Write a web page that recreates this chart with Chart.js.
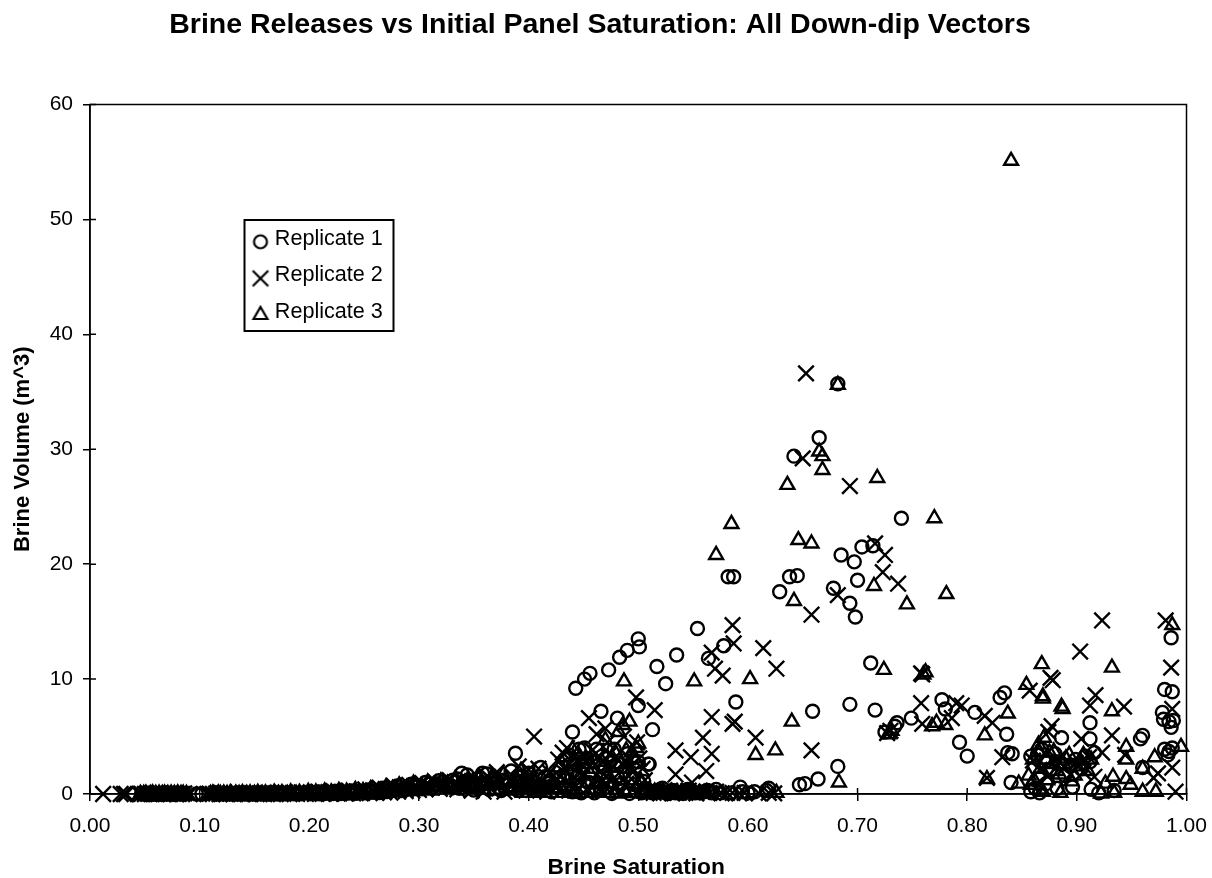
<!DOCTYPE html>
<html><head><meta charset="utf-8">
<style>html,body{margin:0;padding:0;background:#fff}</style>
<script src="https://cdn.jsdelivr.net/npm/chart.js@4/dist/chart.umd.js"></script>
</head><body><canvas id="c" width="1212" height="878" style="display:block"></canvas>
<script>
const chartTitle = 'Brine Releases vs Initial Panel Saturation: All Down-dip Vectors';
const xAxisTitle = 'Brine Saturation';
const yAxisTitle = 'Brine Volume (m^3)';
const seriesNames = ['Replicate 1', 'Replicate 2', 'Replicate 3'];

const rep1Points = [
[.682,35.7],[.665,31.0],[.642,29.4],[.740,24.0],[.685,20.8],[.697,20.2],[.704,21.5],[.714,21.6],[.700,18.6],[.678,17.9],[.693,16.6],[.698,15.4],
[.582,18.9],[.587,18.9],[.638,18.9],[.645,19.0],[.629,17.6],[.554,14.4],[.500,13.5],[.501,12.8],[.490,12.5],[.483,11.9],[.535,12.1],[.578,12.9],[.564,11.8],[.712,11.4],
[.443,9.2],[.451,10.0],[.456,10.5],[.473,10.8],[.517,11.1],[.525,9.6],[.589,8.0],[.659,7.2],[.500,7.7],[.466,7.2],[.481,6.6],[.440,5.4],[.513,5.6],[.451,4.0],[.478,3.9],[.467,3.3],[.509,2.6],[.481,1.5],
[.693,7.8],[.716,7.3],[.749,6.6],[.736,6.2],[.734,5.9],[.725,5.4],[.777,8.2],[.780,7.4],[.807,7.1],[.793,4.5],[.800,3.3],[.836,5.2],[.830,8.4],[.834,8.8],[.837,3.6],[.841,3.5],[.840,1.0],
[.682,2.4],[.664,1.3],[.647,.8],[.652,.9],[.619,.5],[.617,.3],[.593,.6],[.600,.1],[.522,.5],[.571,.4],
[.986,13.6],[.980,9.1],[.987,8.9],[.912,6.2],[.978,7.1],[.979,6.5],[.984,6.3],[.988,6.4],[.986,5.8],[.886,4.9],[.960,5.1],[.958,4.8],[.912,4.8],[.980,3.9],[.984,3.7],[.987,4.0],[.983,3.4],[.960,2.3],
[.913,.4],[.882,.5],[.896,.6],[.858,.2],[.862,.5],[.866,.1],[.872,.9],[.864,3.4],[.858,3.3],[.871,2.8],[.876,2.1],[.884,2.6],[.889,1.6],[.894,2.4],[.899,3.0],[.904,2.2],[.908,3.3],[.912,2.8],[.916,3.6],[.880,3.5],[.868,3.9],[.934,.3],[.920,.1],
[.047,0],[.052,0],[.058,0],[.064,0],[.069,0],[.075,0],[.082,0],[.086,0],[.097,0],[.102,0],[.115,0],[.121,0],[.127,0],[.134,0],[.141,0],[.148,0],[.156,0],[.163,0],[.171,0],[.178,.01],[.186,.01],[.193,.02],[.201,.02],[.209,.02],[.214,.03],[.222,.05],[.229,.04],[.236,.08],[.243,.06],[.251,.1],[.258,.15],[.264,.12],[.271,.22],[.277,.35],[.284,.3],[.291,.55],[.296,.7],[.303,.45],[.309,.85],[.315,.9],[.322,1.05],[.328,.7],[.335,1.3],[.339,1.8],[.344,1.65],[.348,1.0],[.353,1.3],[.358,1.8],[.362,1.75],[.367,.9],[.372,.6],[.377,1.2],[.384,2.0],[.388,3.55],[.392,.7],[.398,.3],[.403,1.2],[.408,.4],[.411,2.3],[.418,.9],[.421,.2],[.428,1.4],[.433,.5],[.437,3.4],[.441,2.0],[.446,3.9],[.440,.2],[.448,.1],[.455,1.0],[.460,.1],[.465,.6],[.470,2.2],[.476,.05],[.486,.3],[.492,.05],[.497,.8],[.503,.1],[.510,2.6],[.516,.2],[.528,.05],[.534,.1],[.541,.05],[.548,.2],[.556,.1],[.563,.3],[.606,.2]
];
const rep1Low = [
[.049,.02],[.055,.03],[.061,.02],[.067,.04],[.072,.02],[.078,.03],[.084,.05],[.117,.03],[.123,.05],[.130,.02],[.137,.06],[.144,.04],[.151,.07],[.159,.05],[.166,.09],[.174,.06],[.181,.1],[.189,.08],[.196,.14],[.204,.1],[.212,.18],[.218,.12],[.225,.22],[.232,.15],[.239,.27],[.247,.2],[.254,.35],[.261,.3],[.267,.5],[.274,.38],[.280,.7],[.287,.55],[.293,.85],[.299,.65],[.306,1.0],[.312,.6],[.318,1.15],[.325,.9],[.331,1.2],[.337,.5],[.342,1.1],[.350,.35],[.356,.8],[.364,.4],[.370,1.3],[.375,.3],[.382,.8],[.390,1.5],[.395,.9],[.400,1.8],[.405,.7],[.415,1.5],[.424,1.9],[.430,.9],[.435,1.8],[.438,2.6],[.443,1.4],[.447,.6],[.450,2.4],[.453,3.1],[.457,1.8],[.459,2.8],[.462,3.9],[.468,1.5],[.472,3.1],[.474,1.1],[.479,2.5],[.483,.8],[.488,2.0],[.490,3.5],[.495,1.4],[.500,2.8],[.505,1.1],[.508,.4],[.513,.1],[.519,.3],[.525,.1],[.531,.3],[.538,.1],[.545,.4],[.552,.1],[.560,.2],[.567,.1],[.575,.1],[.585,.1],[.595,.2]
];

const rep2Points = [
[.653,36.6],[.693,26.8],[.650,29.2],[.716,21.8],[.725,20.8],[.723,19.3],[.737,18.3],[.682,17.3],[.658,15.6],[.586,14.7],[.587,13.1],[.614,12.7],[.567,12.3],[.626,10.9],[.577,10.3],[.570,10.9],
[.498,8.4],[.515,7.3],[.455,6.6],[.470,5.7],[.567,6.7],[.586,6.1],[.588,6.3],[.607,4.9],[.559,4.9],[.658,3.8],[.504,2.2],[.534,3.8],[.548,3.2],[.567,3.5],[.562,2.0],[.534,1.7],[.549,1.0],[.405,5.0],
[.758,10.5],[.759,10.4],[.758,7.9],[.759,6.1],[.786,6.6],[.790,7.9],[.795,7.7],[.816,6.8],[.823,6.2],[.832,3.2],[.818,1.4],[.727,5.3],[.730,5.5],
[.923,15.1],[.981,15.1],[.903,12.4],[.986,11.0],[.857,9.0],[.878,9.9],[.876,10.1],[.917,8.6],[.912,7.7],[.943,7.6],[.987,7.4],[.877,5.9],[.874,5.4],[.932,5.1],[.904,4.8],[.923,3.6],[.987,2.3],[.974,1.8],[.990,.2],[.860,2.9],[.866,2.1],[.874,1.6],[.882,3.0],[.889,2.3],[.894,1.7],[.899,2.7],[.906,1.9],[.911,3.2],[.916,1.5],[.970,1.4],[.944,3.4],
[.012,0],[.028,0],[.031,0],[.033,0],[.045,0],[.050,0],[.056,0],[.061,0],[.067,0],[.073,0],[.079,0],[.084,0],[.091,0],[.107,0],[.112,0],[.118,0],[.124,0],[.131,0],[.138,0],[.145,0],[.152,0],[.159,0],[.167,0],[.174,0],[.182,0],[.189,.01],[.197,.01],[.205,.01],[.212,.02],[.219,.02],[.226,.03],[.233,.04],[.240,.05],[.247,.06],[.255,.08],[.261,.1],[.268,.14],[.274,.12],[.281,.2],[.288,.25],[.294,.3],[.300,.35],[.306,.4],[.312,.55],[.319,.45],[.325,.65],[.331,.8],[.338,.6],[.345,.9],[.351,.75],[.356,1.0],[.361,.5],[.366,1.2],[.371,1.9],[.375,1.0],[.381,.4],[.386,1.5],[.391,2.4],[.396,1.2],[.400,2.1],[.406,.5],[.412,1.1],[.417,.2],[.423,1.6],[.427,3.0],[.431,3.6],[.435,4.0],[.439,2.4],[.444,1.2],[.449,2.6],[.453,.4],[.458,3.8],[.462,5.2],[.466,2.0],[.470,.6],[.474,3.5],[.478,1.4],[.483,.3],[.487,5.0],[.491,3.2],[.495,1.9],[.499,4.5],[.503,.4],[.508,.2],[.514,.1],[.520,.05],[.526,.2],[.531,.05],[.537,.3],[.543,.1],[.553,.05],[.558,.2],[.565,.1],[.576,.05],[.586,.1],[.592,.05],[.597,.1],[.610,.05],[.619,.1],[.624,.05]
];
const rep2Low = [
[.047,.02],[.053,.04],[.059,.02],[.064,.05],[.070,.03],[.076,.04],[.081,.02],[.086,.05],[.109,.03],[.115,.04],[.121,.06],[.128,.03],[.135,.07],[.142,.05],[.149,.08],[.156,.06],[.163,.1],[.170,.07],[.178,.12],[.185,.09],[.193,.15],[.201,.12],[.208,.2],[.215,.14],[.222,.25],[.229,.18],[.236,.3],[.243,.22],[.251,.4],[.258,.32],[.264,.55],[.271,.42],[.277,.7],[.284,.5],[.291,.8],[.297,.6],[.303,.95],[.309,.7],[.315,1.05],[.322,.8],[.328,1.2],[.335,.4],[.341,1.1],[.348,.3],[.353,.9],[.359,.2],[.363,1.5],[.369,.7],[.378,.2],[.383,1.1],[.388,.5],[.393,.8],[.398,.3],[.403,1.5],[.409,2.2],[.414,.7],[.419,1.9],[.425,.6],[.429,1.5],[.433,2.2],[.437,.3],[.441,3.2],[.446,.5],[.451,1.8],[.455,3.0],[.460,.8],[.464,3.3],[.468,1.2],[.472,4.5],[.476,2.4],[.480,.7],[.485,2.6],[.489,.9],[.493,2.4],[.497,1.0],[.501,3.1],[.506,1.2],[.511,.3],[.517,.2],[.523,.1],[.529,.3],[.534,.15],[.540,.2],[.546,.3],[.550,.15],[.556,.3],[.562,.2],[.571,.2],[.581,.1]
];

const rep3Points = [
[.682,35.6],[.665,29.8],[.668,29.4],[.668,28.2],[.636,26.9],[.718,27.5],[.770,24.0],[.585,23.5],[.571,20.8],[.646,22.1],[.658,21.8],[.715,18.1],[.642,16.8],[.745,16.5],[.781,17.4],
[.840,55.1],[.760,10.4],[.762,10.6],[.724,10.8],[.487,9.8],[.551,9.8],[.602,10.0],[.492,6.3],[.500,4.4],[.486,6.0],[.640,6.3],[.607,3.4],[.625,3.8],[.683,1.0],[.626,.1],[.728,5.2],[.731,5.5],[.768,5.9],[.780,6.0],[.772,6.2],
[.837,7.0],[.816,5.1],[.818,1.3],[.987,14.7],[.868,11.3],[.932,11.0],[.854,9.5],[.869,8.5],[.869,8.3],[.886,7.6],[.887,7.4],[.932,7.2],[.945,4.1],[.995,4.1],[.971,3.2],[.945,3.0],[.960,2.2],[.933,1.5],[.945,1.3],[.926,.9],[.949,.8],[.960,.2],[.972,.2],[.934,.1],[.922,.05],[.885,.1],
[.865,4.3],[.870,4.9],[.875,3.6],[.860,3.0],[.867,2.2],[.873,1.2],[.878,2.6],[.884,1.7],[.890,3.1],[.895,1.1],[.900,2.4],[.906,3.4],[.910,2.0],[.866,.4],[.858,.8],[.847,.9],
[.470,4.7],[.476,3.2],[.482,5.4],[.489,3.8],[.494,3.6],[.498,4.0],[.445,3.5],[.450,2.6],[.440,3.9],[.456,1.8],[.461,1.0],[.468,.4],
[.046,0],[.049,0],[.055,0],[.060,0],[.066,0],[.071,0],[.077,0],[.083,0],[.088,0],[.110,0],[.113,0],[.119,0],[.125,0],[.129,0],[.136,0],[.143,0],[.150,0],[.157,0],[.165,0],[.172,0],[.180,0],[.188,.01],[.195,.01],[.203,.01],[.211,.02],[.217,.02],[.224,.03],[.231,.02],[.238,.05],[.245,.07],[.253,.1],[.260,.07],[.266,.15],[.273,.2],[.279,.15],[.286,.3],[.293,.25],[.299,.4],[.305,.5],[.311,.3],[.317,.6],[.323,.7],[.329,.5],[.336,.8],[.342,1.0],[.347,.6],[.352,.9],[.357,1.1],[.363,.7],[.369,.3],[.374,.8],[.380,1.1],[.385,.3],[.390,.9],[.395,.1],[.401,.4],[.407,.1],[.414,.7],[.420,.1],[.426,.5],[.432,.1],[.438,.3],[.443,.05],[.451,.4],[.457,.1],[.464,.2],[.473,.1],[.480,.05],[.488,.2],[.496,.1],[.505,.05],[.512,.1],[.519,.05],[.527,.1],[.536,.05],[.545,.1],[.552,.05],[.560,.1]
];
const rep3Low = [
[.051,.03],[.057,.05],[.063,.02],[.068,.04],[.074,.03],[.080,.05],[.085,.02],[.112,.04],[.117,.06],[.122,.03],[.128,.07],[.133,.04],[.139,.08],[.146,.05],[.153,.1],[.160,.06],[.168,.12],[.175,.08],[.183,.15],[.191,.1],[.199,.18],[.206,.13],[.214,.22],[.220,.15],[.227,.28],[.234,.2],[.242,.35],[.249,.25],[.256,.42],[.263,.3],[.270,.6],[.276,.45],[.282,.75],[.289,.55],[.295,.9],[.302,.7],[.308,1.0],[.314,.75],[.320,1.1],[.326,.9],[.333,1.3],[.339,.7],[.345,1.3],[.350,.5],[.355,1.4],[.361,.9],[.367,1.5],[.372,.9],[.377,1.7],[.382,.5],[.388,1.3],[.393,2.0],[.398,.7],[.404,1.4],[.410,.5],[.416,1.5],[.422,.8],[.428,2.3],[.434,3.2],[.436,1.2],[.441,2.8],[.447,1.6],[.453,3.0],[.459,2.2],[.463,.9],[.467,2.8],[.472,1.7],[.479,3.6],[.484,2.6],[.491,2.2],[.496,3.1],[.502,1.2],[.507,.3],[.515,.2],[.522,.1],[.530,.2],[.539,.1],[.548,.2],[.556,.1],[.866,3.6],[.872,3.0],[.879,3.7],[.882,2.0],[.888,2.6],[.893,3.4],[.898,1.6],[.903,2.9],[.913,3.0],[.856,1.6],[.861,1.2],[.869,.2]
];

const xTickValues = [0, .1, .2, .3, .4, .5, .6, .7, .8, .9, 1];
const yTickValues = [0, 10, 20, 30, 40, 50, 60];

const pointStyles = ['circle', 'crossRot', 'triangle'];
const pointRadii = [6.5, 11, 8];
const ink = '#000';
const fontFamily = '"Liberation Sans", Arial, sans-serif';

function legendMark(i) {
  const cv = document.createElement('canvas');
  cv.width = 24; cv.height = 32;
  const g = cv.getContext('2d');
  g.strokeStyle = ink; g.fillStyle = 'rgba(0,0,0,0)'; g.lineWidth = 2.2;
  Chart.helpers.drawPoint(g, {pointStyle: pointStyles[i], radius: pointRadii[i], borderWidth: 2.2, rotation: 0}, 12, 19);
  return cv;
}

const frame = {
  id: 'frame',
  afterLayout(ch) {
    const lg = ch.legend;
    const w = lg.width, h = lg.height;
    lg.left = 242; lg.top = 213; lg.right = 242 + w; lg.bottom = 213 + h;
    const sx = ch.scales.x;
    if (!sx._wrapped) {
      const orig = sx.drawTitle.bind(sx);
      sx.drawTitle = function () { ch.ctx.save(); ch.ctx.translate(-2, 0); orig(); ch.ctx.restore(); };
      sx._wrapped = true;
    }
  },
  beforeDatasetsDraw(ch) {
    const {ctx, chartArea: a, scales: {x, y}} = ch;
    ctx.save();
    ctx.strokeStyle = ink; ctx.lineWidth = 1.5;
    ctx.strokeRect(a.left, a.top, a.right - a.left, a.bottom - a.top);
    ctx.beginPath();
    x.ticks.forEach(t => { const p = x.getPixelForValue(t.value); ctx.moveTo(p, a.bottom); ctx.lineTo(p, a.bottom - 6); });
    y.ticks.forEach(t => { const p = y.getPixelForValue(t.value); ctx.moveTo(a.left, p); ctx.lineTo(a.left + 6, p); });
    ctx.stroke();
    ctx.lineWidth = 2;
    ctx.strokeRect(244.5, 220, 149, 111);
    ctx.restore();
  }
};

const tickFont = {family: fontFamily, size: 21};
const xLabelFont = {family: fontFamily, size: 22.8, weight: 'bold', lineHeight: 1};
const yLabelFont = {family: fontFamily, size: 22, weight: 'bold', lineHeight: 1};

new Chart(document.getElementById('c'), {
  type: 'scatter',
  data: {
    datasets: [rep1Points.concat(rep1Low), rep2Points.concat(rep2Low), rep3Points.concat(rep3Low)].map((pts, i) => ({
      label: seriesNames[i],
      data: pts.map(p => ({x: p[0], y: p[1]})),
      pointStyle: pointStyles[i],
      pointRadius: pointRadii[i],
      pointBorderWidth: 2.4,
      pointBorderColor: ink,
      pointBackgroundColor: 'rgba(0,0,0,0)',
      borderColor: ink,
      backgroundColor: 'rgba(0,0,0,0)',
      clip: false
    }))
  },
  plugins: [frame],
  options: {
    responsive: false,
    animation: false,
    layout: {padding: {left: 13.5, right: 25.5, top: 0, bottom: 0}},
    plugins: {
      tooltip: {enabled: false},
      title: {
        display: true, text: chartTitle, color: ink,
        font: {family: fontFamily, size: 28.5, weight: 'bold', lineHeight: 1},
        padding: {top: 11, bottom: 65}
      },
      legend: {
        display: true, position: 'chartArea', align: 'start',
        labels: {
          color: ink, usePointStyle: true, pointStyleWidth: 7, padding: 15,
          font: {family: fontFamily, size: 21.6},
          generateLabels: () => seriesNames.map((n, i) => ({
            text: n, pointStyle: legendMark(i), datasetIndex: i, fontColor: ink,
            fillStyle: 'rgba(0,0,0,0)', strokeStyle: ink, lineWidth: 0, hidden: false
          }))
        }
      }
    },
    scales: {
      x: {
        type: 'linear', min: 0, max: 1,
        afterFit(s) { s.height = 84; s.paddingLeft = 0; s.paddingRight = 0; },
        afterBuildTicks(s) { s.ticks = xTickValues.map(v => ({value: v})); },
        grid: {drawOnChartArea: false, drawTicks: true, tickLength: 7, color: ink, tickColor: ink, lineWidth: 1.5},
        border: {display: true, color: ink, width: 1.5},
        ticks: {color: ink, font: tickFont, padding: 13, maxRotation: 0, autoSkip: false, callback: v => v.toFixed(2)},
        title: {display: true, text: xAxisTitle, color: ink, font: xLabelFont, padding: {top: 0, bottom: -1.4}}
      },
      y: {
        type: 'linear', min: 0, max: 60,
        afterFit(s) { s.width = 76.5; s.paddingTop = 0; s.paddingBottom = 0; },
        afterBuildTicks(s) { s.ticks = yTickValues.map(v => ({value: v})); },
        grid: {drawOnChartArea: false, drawTicks: true, tickLength: 7, color: ink, tickColor: ink, lineWidth: 1.5},
        border: {display: true, color: ink, width: 1.5},
        ticks: {color: ink, font: tickFont, padding: 10, autoSkip: false},
        title: {display: true, text: yAxisTitle, color: ink, font: yLabelFont, padding: {top: -1.5, bottom: 0}}
      }
    }
  }
});
</script></body></html>
